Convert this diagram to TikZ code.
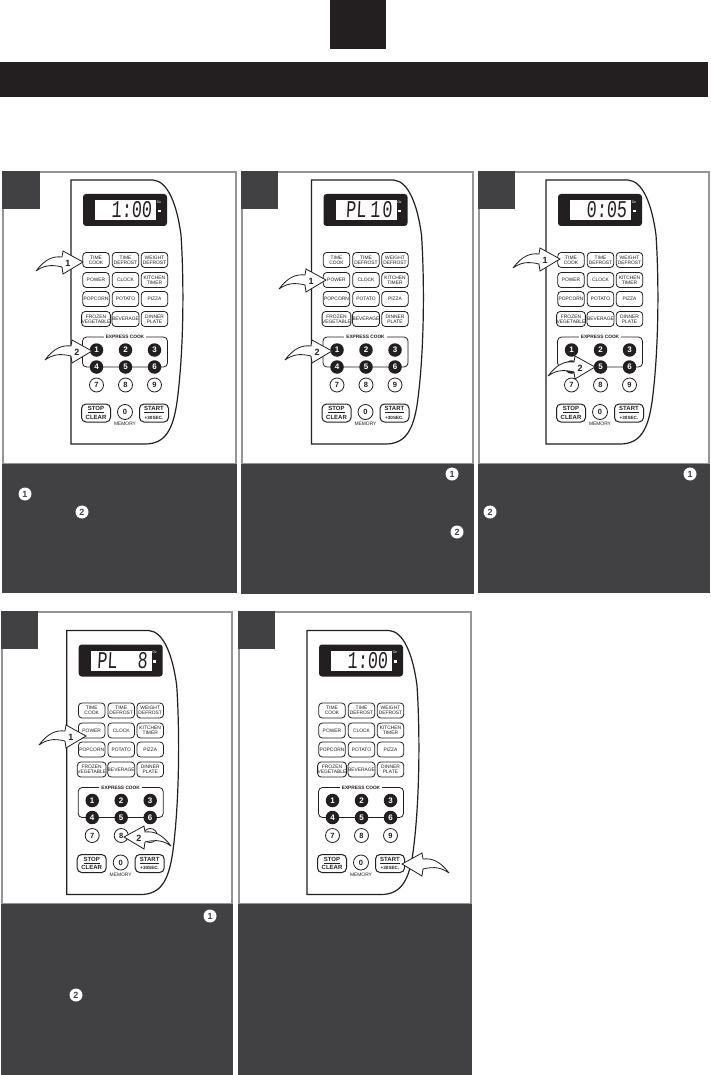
\documentclass[tikz,border=0pt]{standalone}
\usepackage{fontspec}
\setmainfont{Liberation Sans}
\newfontfamily\lcdfont[FakeStretch=.7,FakeSlant=.05]{Liberation Mono}
\definecolor{inkblack}{HTML}{231F20}
\definecolor{panelgray}{HTML}{414042}
\definecolor{framegray}{HTML}{939598}
\tikzset{
	btn/.style={draw=inkblack,line width=.8pt,rounded corners=3.5pt,minimum width=26.5pt,minimum height=15pt,inner sep=0pt,align=center,font=\fontsize{4.9}{5}\selectfont,text=inkblack},
	bigbtn/.style={btn,line width=1pt,minimum width=29pt,minimum height=18pt,rounded corners=4.5pt,font=\fontsize{6}{8.5}\bfseries\selectfont},
	blackkey/.style={circle,fill=inkblack,text=white,minimum size=13.5pt,inner sep=0pt,font=\fontsize{8}{8}\bfseries\selectfont},
	whitekey/.style={circle,draw=inkblack,line width=.8pt,fill=white,text=inkblack,minimum size=14pt,inner sep=0pt,font=\fontsize{7.5}{8}\bfseries\selectfont},
	badge/.style={circle,fill=white,text=panelgray,minimum size=13pt,inner sep=0pt,font=\fontsize{9}{9}\bfseries\selectfont},
	arrowlabel/.style={inner sep=0pt,font=\fontsize{9}{9}\bfseries\selectfont,text=inkblack},
	tinylabel/.style={inner sep=0pt,font=\fontsize{4.9}{5}\selectfont,text=inkblack}
}
\newcommand{\panelbox}[6]{
	\draw[framegray,line width=2pt,fill=white] (#1,#2) rectangle (#3,#5);
	\fill[panelgray] (#1-1,#2-1) rectangle (#1+#4,#2+37);
	\fill[panelgray] (#1-1,#5) rectangle (#3+1,#6);
}
\newcommand{\keypad}[4]{
	\begin{scope}[shift={(#2,#3)},name prefix=#1-]
		\draw[line width=1.2pt,inkblack] (71,180) -- (153,180) .. controls (168,181) and (177,205) .. (181,235) .. controls (184,280) and (184,350) .. (177,402) .. controls (173,430) and (165,444) .. (145,444) -- (71,444) -- cycle;
		\node[fill=inkblack,rounded corners=3pt,minimum width=84pt,minimum height=32pt,inner sep=0pt] (screen) at (125,210) {};
		\node[fill=white,minimum width=61pt,minimum height=20pt,inner sep=0pt] (lcd) at (125.5,210) {};
		\node[anchor=east,inner sep=0pt,font=\lcdfont\fontsize{24}{24}\selectfont,text=inkblack] (readout) at (152,210) {#4};
		\node[inner sep=0pt,text=white,font=\fontsize{3.5}{4}\selectfont] (oz) at (159,202) {Oz};
		\node[fill=white,minimum width=3pt,minimum height=2.5pt,inner sep=0pt] (cook) at (159,211) {};
		\foreach \bx/\by/\bname/\btext in {96/260/time/{TIME\\COOK},125.5/260/defrost/{TIME\\DEFROST},154.5/260/weight/{WEIGHT\\DEFROST},96/280/power/POWER,125.5/280/clock/CLOCK,154.5/280/timer/{KITCHEN\\TIMER},96/299/popcorn/POPCORN,125.5/299/potato/POTATO,154.5/299/pizza/PIZZA,96/319/frozen/{FROZEN\\VEGETABLE},125.5/319/beverage/BEVERAGE,154.5/319/dinner/{DINNER\\PLATE}}
			\node[btn] (\bname) at (\bx,\by) {\btext};
		\node[draw=inkblack,line width=.8pt,rounded corners=4pt,minimum width=85pt,minimum height=30pt,inner sep=0pt] (express) at (125,352) {};
		\node[fill=white,inner xsep=2pt,inner ysep=0pt,font=\fontsize{4.8}{5}\bfseries\selectfont,text=inkblack] (expresslabel) at (125,337) {EXPRESS COOK};
		\foreach \kx/\ky/\kn in {96.5/350/1,125.5/350/2,154.5/350/3,96.5/367/4,125.5/367/5,154.5/367/6}
			\node[blackkey] (key\kn) at (\kx,\ky) {\kn};
		\foreach \kx/\kn in {96.5/7,125.5/8,154.5/9}
			\node[whitekey] (key\kn) at (\kx,385) {\kn};
		\node[whitekey,minimum size=15pt] (key0) at (125,412) {0};
		\node[tinylabel] (memory) at (125,424) {MEMORY};
		\node[bigbtn] (stop) at (96,413) {\underline{STOP}\\CLEAR};
		\node[bigbtn] (start) at (154,413) {\underline{START}\\{\fontsize{4.6}{5}\selectfont +30SEC.}};
	\end{scope}
}
\newcommand{\pressarrow}[5]{
	\draw[fill=white,draw=inkblack,line width=.8pt] (#1+#3*47,#2+9) .. controls (#1+#3*38,#2-3) and (#1+#3*30,#2-6) .. (#1+#3*21,#2-5) -- (#1+#3*20,#2-11) -- (#1,#2) -- (#1+#3*20,#2+12) -- (#1+#3*21,#2+5) .. controls (#1+#3*33,#2+2) and (#1+#3*40,#2+4) .. (#1+#3*47,#2+9);
	\node[arrowlabel] (#5) at (#1+#3*15,#2+1) {#4};
}
\begin{document}
\begin{tikzpicture}[x=1pt,y=-1pt]
	\useasboundingbox (0,0) rectangle (711,1075);

	\fill[inkblack] (330,0) rectangle (386,49);
	\fill[inkblack] (0,62) rectangle (708,97);

	\panelbox{3}{172}{236}{37}{464}{593}
	\panelbox{242}{172}{473}{36}{464}{594}
	\panelbox{479}{172}{709}{36}{464}{593}
	\panelbox{1.5}{612}{232}{36}{904}{1075}
	\panelbox{239}{612}{471}{36}{904}{1075}

	\keypad{one}{0}{0}{1:00}
	\keypad{two}{240.5}{0}{PL\kern4pt1\kern2pt0}
	\keypad{three}{475}{0}{0:05}
	\keypad{four}{-4.3}{450.5}{PL\ \ 8}
	\keypad{five}{236}{450.5}{1:00}

	\pressarrow{83}{262}{-1}{1}{onefirst}
	\pressarrow{92}{351}{-1}{2}{onesecond}
	\pressarrow{326}{280}{-1}{1}{twofirst}
	\pressarrow{332}{351}{-1}{2}{twosecond}
	\pressarrow{560}{259}{-1}{1}{threefirst}
	\pressarrow{595}{367}{-1}{2}{threesecond}
	\pressarrow{86}{736}{-1}{1}{fourfirst}
	\pressarrow{124}{837}{1}{2}{foursecond}
	\pressarrow{402}{864}{1}{}{fivefirst}

	\node[badge] (capAa) at (25,494) {1};
	\node[badge] (capAb) at (82,512) {2};
	\node[badge] (capBa) at (452,474) {1};
	\node[badge] (capBb) at (457,532) {2};
	\node[badge] (capCa) at (690,474) {1};
	\node[badge] (capCb) at (490,512) {2};
	\node[badge] (capDa) at (210,916) {1};
	\node[badge] (capDb) at (76,995) {2};
\end{tikzpicture}
\end{document}
